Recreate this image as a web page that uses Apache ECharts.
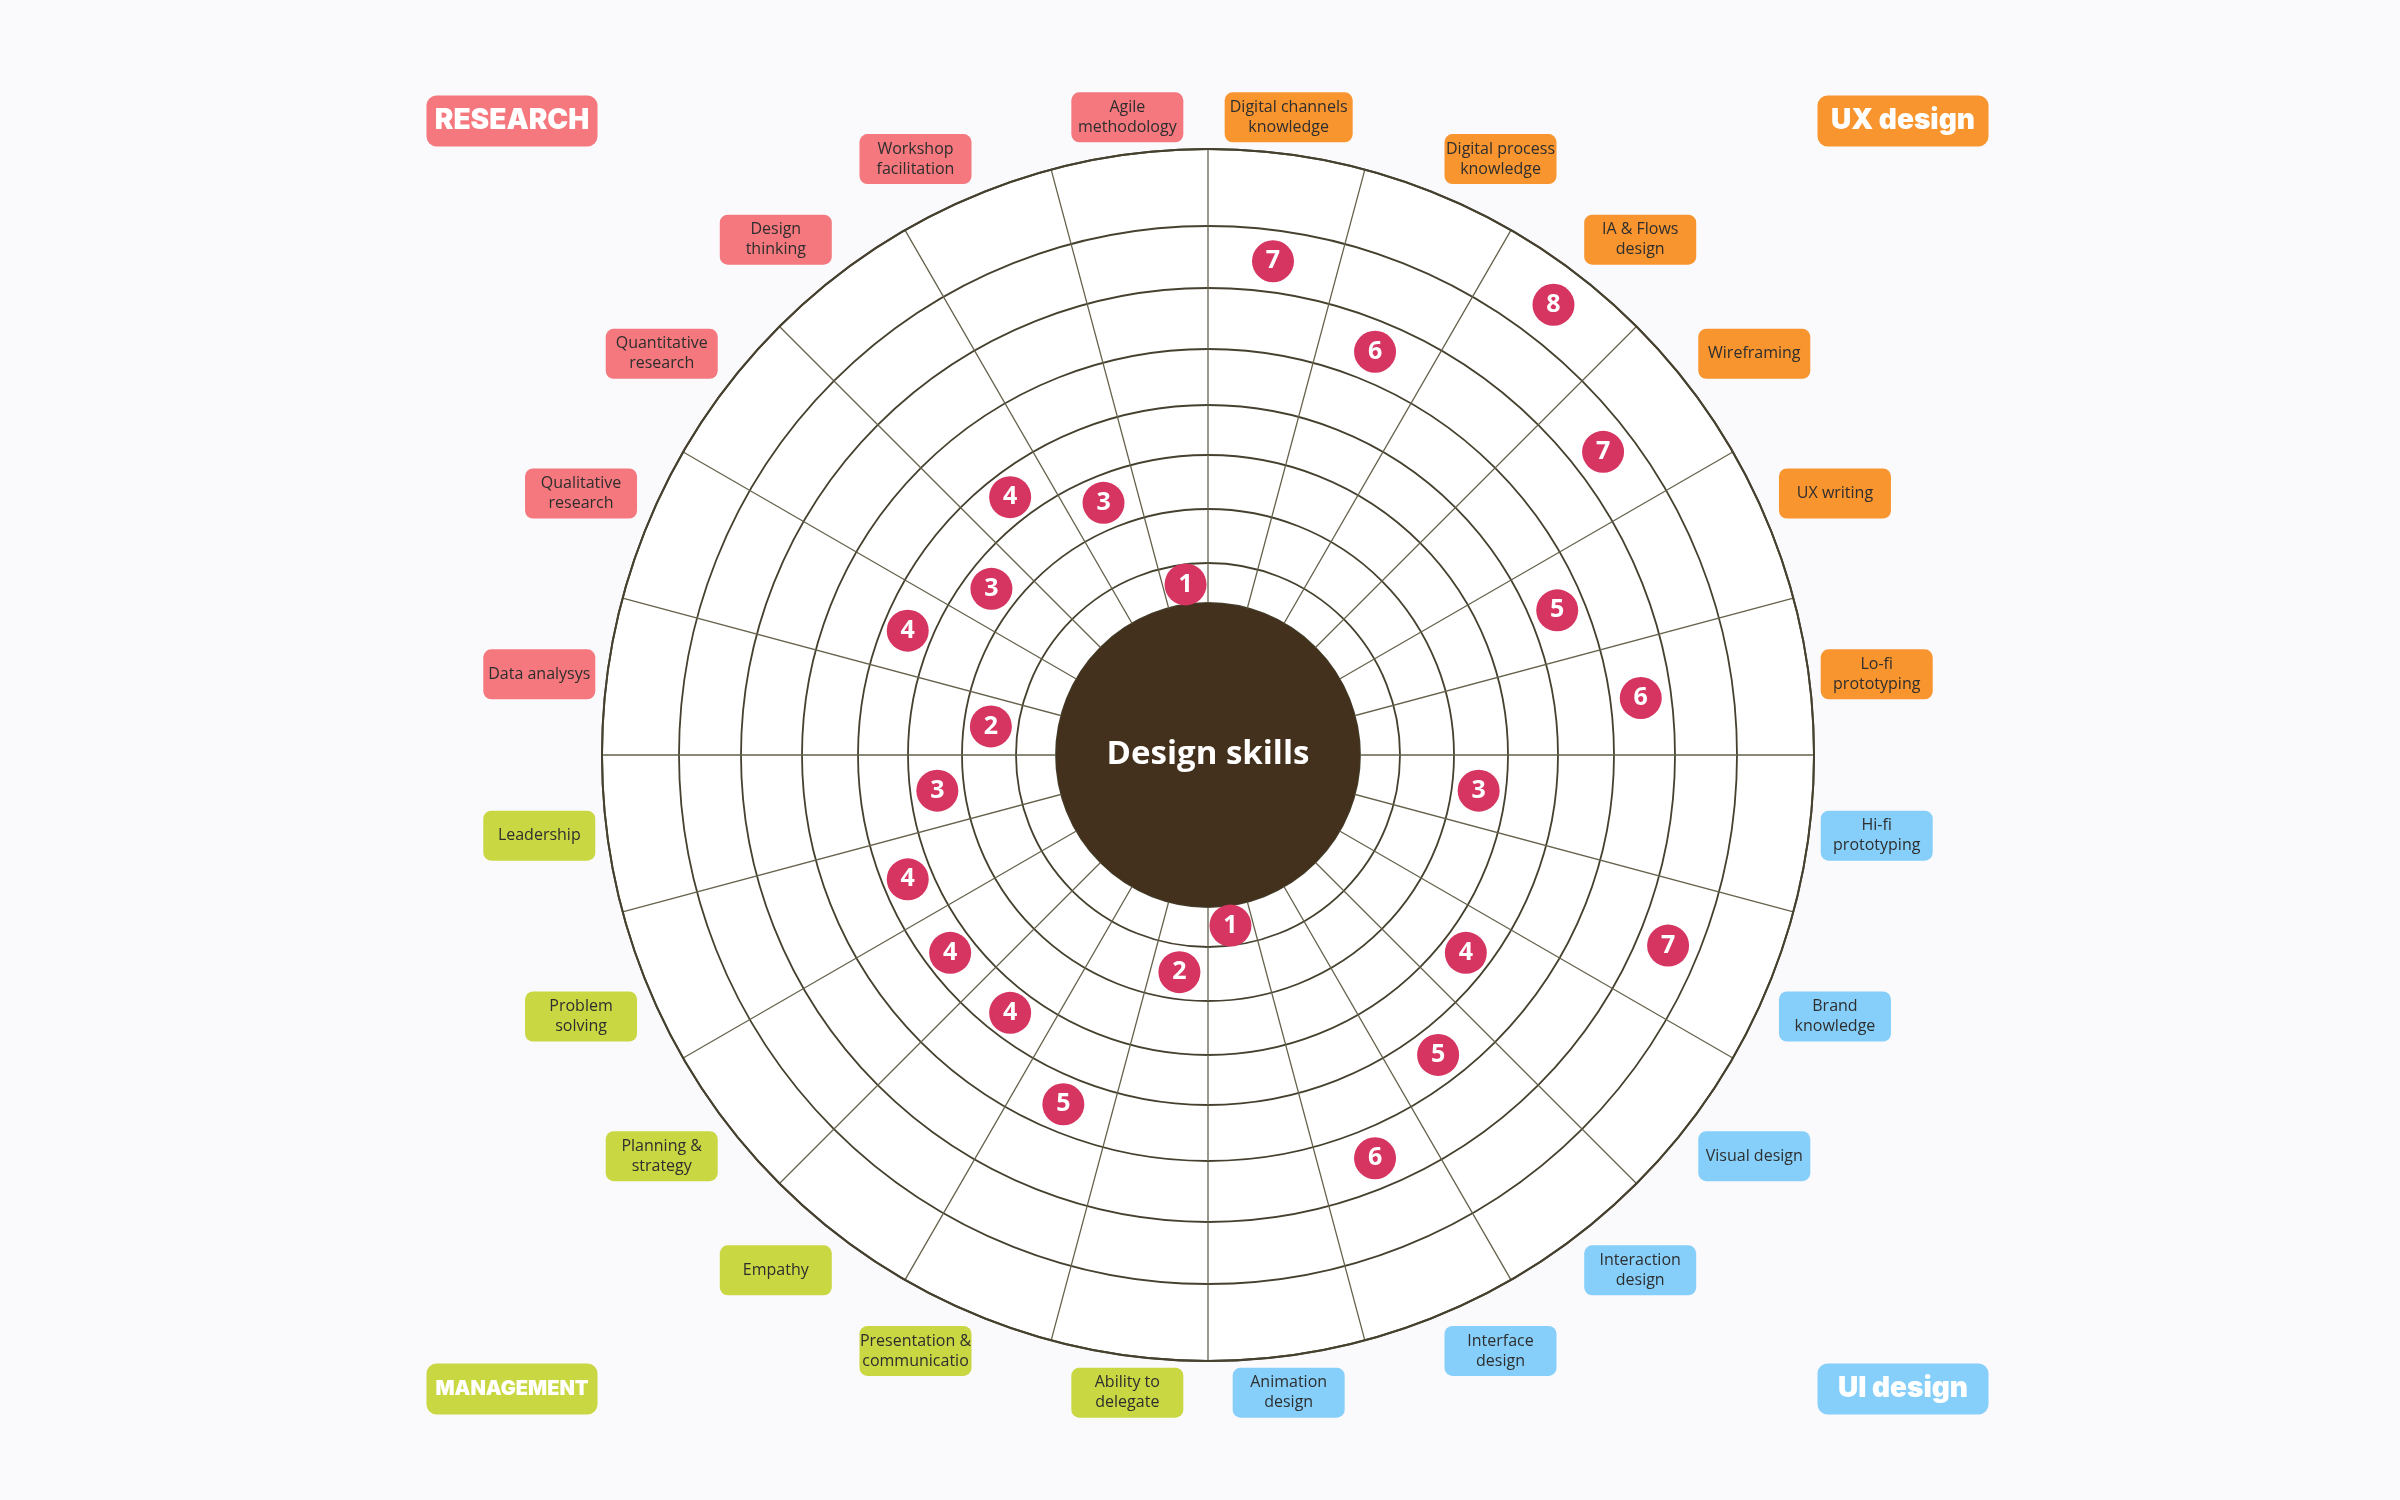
<!DOCTYPE html>
<html lang="en">

<head>
    <meta charset="UTF-8" />
    <title>Design skills</title>
    <style>
        html, body {
            margin: 0;
            padding: 0;
            background: #faf9fc;
        }

        #chart {
            width: 2400px;
            height: 1500px;
        }
    </style>
</head>

<body>
    <div id="chart"></div>

    <script src="https://cdn.jsdelivr.net/npm/echarts@6.0.0/dist/echarts.min.js"></script>
    <script>
        // skills, clockwise from 12 o'clock
        const skills = [
            'Digital channels\nknowledge', 'Digital process\nknowledge', 'IA & Flows\ndesign', 'Wireframing', 'UX writing', 'Lo-fi\nprototyping',
            'Hi-fi\nprototyping', 'Brand\nknowledge', 'Visual design', 'Interaction\ndesign', 'Interface\ndesign', 'Animation\ndesign',
            'Ability to\ndelegate', 'Presentation &\ncommunicatio', 'Empathy', 'Planning &\nstrategy', 'Problem\nsolving', 'Leadership',
            'Data analysys', 'Qualitative\nresearch', 'Quantitative\nresearch', 'Design\nthinking', 'Workshop\nfacilitation', 'Agile\nmethodology'
        ]
        // skill level 1..8 for each skill above
        const levels = [7, 6, 8, 7, 5, 6, 3, 7, 4, 5, 6, 1, 2, 5, 4, 4, 4, 3, 2, 4, 3, 4, 3, 1]
        // group of each skill (index into groups)
        const skillGroup = [1, 1, 1, 1, 1, 1, 2, 2, 2, 2, 2, 2, 3, 3, 3, 3, 3, 3, 0, 0, 0, 0, 0, 0]
        const groups = ['RESEARCH', 'UX design', 'UI design', 'MANAGEMENT']

        const groupColors = ['#f4787e', '#f8952f', '#86cffa', '#c9d743']
        // the rings of the wheel are not evenly spaced, px from the centre
        const ringRadius = [152, 192, 246, 300, 350, 406, 467, 529, 606]
        const CX = 1208, CY = 755

        // a level sits in the middle of its ring band
        function levelToRadius (v) {
            return (ringRadius[v - 1] + ringRadius[v]) / 2
        }

        const labelFont = { fontFamily: 'Open Sans', fontSize: 16, color: '#2e2e2e', align: 'center' }

        var myChart = echarts.init(document.getElementById('chart'))
        var option = {
            backgroundColor: '#faf9fc',
            animation: false,
            polar: {
                center: [CX, CY],
                radius: ringRadius[8]
            },
            angleAxis: {
                type: 'category',
                data: skills.map((s, i) => ({
                    value: s,
                    textStyle: { backgroundColor: groupColors[skillGroup[i]] }
                })),
                startAngle: 90,
                clockwise: true,
                z: 1,
                axisLine: { lineStyle: { color: '#45412e', width: 2 } },
                axisTick: { show: false, interval: 0 },
                splitLine: { show: true, interval: 0, lineStyle: { color: '#66624c', width: 1.3 } },
                axisLabel: {
                    interval: 0,
                    margin: 12,
                    padding: [5, 5],
                    borderRadius: 8,
                    fontFamily: 'Open Sans',
                    fontSize: 16,
                    color: '#2e2e2e',
                    formatter: function (v) {
                        if (v.indexOf('\n') < 0) return '{one|' + v + '}'
                        const wide = v.split('\n').some(l => l.length > 15)
                        return (wide ? '{wide|' : '{two|') + v + '}'
                    },
                    rich: {
                        one: Object.assign({ width: 102, lineHeight: 40 }, labelFont),
                        two: Object.assign({ width: 102, lineHeight: 20 }, labelFont),
                        wide: Object.assign({ width: 118, lineHeight: 20 }, labelFont)
                    }
                }
            },
            radiusAxis: {
                type: 'value',
                min: 0,
                max: ringRadius[8],
                z: 1,
                axisLine: { show: false },
                axisLabel: { show: false },
                axisTick: { show: false, customValues: ringRadius },
                splitLine: { show: true, lineStyle: { color: '#45412e', width: 1.8 } }
            },
            graphic: [
                { x: 512, y: 121 },
                { x: 1903, y: 121 },
                { x: 1903, y: 1389 },
                { x: 512, y: 1389 }
            ].map((pos, k) => ({
                type: 'text',
                x: pos.x,
                y: pos.y,
                z: 10,
                style: {
                    text: groups[k],
                    fill: '#ffffff',
                    font: (k === 3 ? '900 20px' : '900 28px') + ' Inter',
                    backgroundColor: groupColors[k],
                    padding: [6, 6],
                    borderRadius: 10,
                    width: 159,
                    lineHeight: 39,
                    align: 'center',
                    verticalAlign: 'middle'
                }
            })),
            series: [
                {
                    // white face of the wheel
                    type: 'pie',
                    center: [CX, CY],
                    radius: [0, ringRadius[8]],
                    z: 0,
                    silent: true,
                    label: { show: false },
                    labelLine: { show: false },
                    itemStyle: { color: '#ffffff' },
                    emphasis: { disabled: true },
                    data: [{ value: 1, name: '' }]
                },
                {
                    type: 'pie',
                    center: [CX, CY],
                    radius: [0, ringRadius[0]],
                    z: 3,
                    silent: true,
                    label: {
                        position: 'center',
                        formatter: '{b}',
                        color: '#ffffff',
                        fontFamily: 'Open Sans',
                        fontSize: 33,
                        fontWeight: 'bold'
                    },
                    labelLine: { show: false },
                    itemStyle: { color: '#43311d' },
                    emphasis: { disabled: true },
                    data: [{ value: 1, name: 'Design skills' }]
                },
                {
                    name: 'level',
                    type: 'scatter',
                    coordinateSystem: 'polar',
                    z: 4,
                    symbolSize: 42,
                    itemStyle: { color: '#d63561', opacity: 1 },
                    label: {
                        show: true,
                        position: 'inside',
                        formatter: p => p.value[2],
                        color: '#ffffff',
                        fontFamily: 'Open Sans',
                        fontSize: 25,
                        fontWeight: 'bold'
                    },
                    data: levels.map((v, i) => [levelToRadius(v), i, v])
                }
            ]
        }
        myChart.setOption(option)
    </script>
</body>

</html>
